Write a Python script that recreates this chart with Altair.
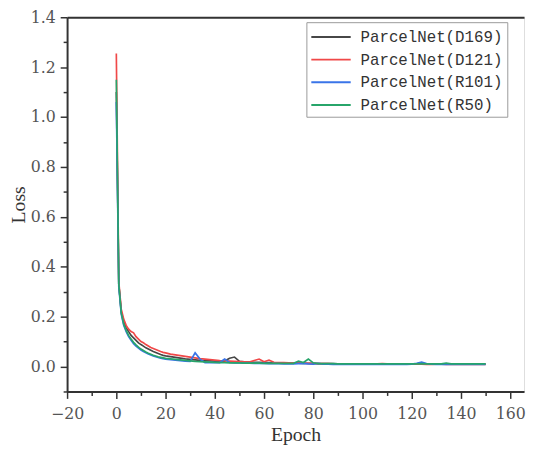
import altair as alt
import pandas as pd

series_names = ["ParcelNet(D169)", "ParcelNet(D121)", "ParcelNet(R101)", "ParcelNet(R50)"]
series_colors = ["#474747", "#f04848", "#3a74e8", "#27a56a"]

epochs = list(range(0, 21)) + list(range(22, 151, 2))

loss_d169 = [1.10, 0.33, 0.22, 0.18, 0.155, 0.14, 0.125, 0.115, 0.105, 0.095, 0.088,
             0.082, 0.075, 0.070, 0.065, 0.060, 0.056, 0.052, 0.048, 0.045, 0.043,
             0.040, 0.037, 0.034, 0.031, 0.029, 0.027, 0.025, 0.024, 0.023, 0.022,
             0.021, 0.022, 0.033, 0.038, 0.021, 0.019, 0.018, 0.017, 0.017, 0.016,
             0.016, 0.015, 0.015, 0.015, 0.014, 0.014, 0.014, 0.013, 0.013, 0.013,
             0.012, 0.012, 0.012, 0.012, 0.011, 0.011, 0.011, 0.011, 0.011, 0.011,
             0.011, 0.011, 0.011, 0.011, 0.011, 0.010, 0.010, 0.010, 0.011, 0.010,
             0.010, 0.010, 0.010, 0.010, 0.010, 0.010, 0.010, 0.010, 0.010, 0.010,
             0.010, 0.010, 0.010, 0.010, 0.010]

loss_d121 = [1.255, 0.34, 0.23, 0.19, 0.165, 0.15, 0.14, 0.135, 0.12, 0.11, 0.10,
             0.095, 0.088, 0.082, 0.076, 0.072, 0.068, 0.064, 0.060, 0.057, 0.055,
             0.050, 0.047, 0.044, 0.041, 0.038, 0.035, 0.032, 0.030, 0.028, 0.026,
             0.024, 0.023, 0.022, 0.021, 0.020, 0.019, 0.018, 0.024, 0.030, 0.019,
             0.026, 0.017, 0.016, 0.016, 0.015, 0.015, 0.014, 0.014, 0.013, 0.013,
             0.012, 0.012, 0.012, 0.011, 0.011, 0.011, 0.011, 0.011, 0.011, 0.011,
             0.011, 0.011, 0.011, 0.012, 0.011, 0.011, 0.010, 0.010, 0.010, 0.011,
             0.010, 0.010, 0.009, 0.009, 0.010, 0.010, 0.009, 0.009, 0.010, 0.009,
             0.009, 0.009, 0.009, 0.009, 0.009]

loss_r101 = [1.06, 0.32, 0.21, 0.165, 0.14, 0.12, 0.105, 0.092, 0.082, 0.074, 0.066,
             0.060, 0.055, 0.050, 0.046, 0.042, 0.039, 0.036, 0.034, 0.032, 0.030,
             0.028, 0.026, 0.024, 0.022, 0.021, 0.055, 0.030, 0.016, 0.017, 0.016,
             0.016, 0.030, 0.016, 0.015, 0.015, 0.014, 0.014, 0.013, 0.013, 0.013,
             0.012, 0.012, 0.012, 0.011, 0.011, 0.011, 0.012, 0.013, 0.011, 0.010,
             0.013, 0.010, 0.010, 0.009, 0.009, 0.009, 0.009, 0.009, 0.009, 0.009,
             0.009, 0.009, 0.009, 0.009, 0.009, 0.009, 0.009, 0.009, 0.009, 0.010,
             0.013, 0.018, 0.012, 0.010, 0.009, 0.009, 0.009, 0.009, 0.009, 0.009,
             0.009, 0.009, 0.009, 0.009, 0.009]

loss_r50 = [1.15, 0.33, 0.215, 0.17, 0.145, 0.125, 0.11, 0.097, 0.087, 0.078, 0.070,
            0.064, 0.058, 0.053, 0.049, 0.045, 0.042, 0.039, 0.037, 0.035, 0.033,
            0.031, 0.029, 0.027, 0.025, 0.023, 0.021, 0.020, 0.019, 0.018, 0.017,
            0.016, 0.016, 0.015, 0.015, 0.015, 0.014, 0.014, 0.014, 0.014, 0.013,
            0.013, 0.013, 0.013, 0.013, 0.013, 0.013, 0.022, 0.016, 0.030, 0.015,
            0.012, 0.012, 0.012, 0.012, 0.011, 0.011, 0.011, 0.011, 0.011, 0.011,
            0.011, 0.011, 0.011, 0.011, 0.011, 0.011, 0.011, 0.011, 0.011, 0.011,
            0.011, 0.012, 0.011, 0.011, 0.011, 0.011, 0.014, 0.011, 0.011, 0.011,
            0.011, 0.011, 0.011, 0.011, 0.011]

x_tick_values = list(range(-20, 161, 10))
y_tick_values = [-0.1, 0.0, 0.1, 0.2, 0.3, 0.4, 0.5, 0.6, 0.7, 0.8, 0.9, 1.0, 1.1, 1.2, 1.3, 1.4]

rows = []
for name, vals in zip(series_names, [loss_d169, loss_d121, loss_r101, loss_r50]):
    for e, v in zip(epochs, vals):
        rows.append({"Epoch": e, "Loss": v, "Model": name})
df = pd.DataFrame(rows)

tick_font = "DejaVu Serif"
title_font = "Liberation Serif"

x_scale = alt.Scale(domain=[-20, 165.6], nice=False, zero=False)
y_scale = alt.Scale(domain=[-0.1, 1.4], nice=False, zero=False)

x_axis = alt.Axis(
    values=x_tick_values,
    labelExpr="datum.value % 20 == 0 ? format(datum.value, 'd') : ''",
    tickSize={"condition": {"test": "datum.value % 20 != 0", "value": 4}, "value": 7},
    tickWidth=1.5, tickColor="#333", domainColor="#333", domainWidth=2,
    labelFont=tick_font, labelFontSize=16, labelColor="#555", labelPadding=7,
    labelFlush=False, labelOverlap=False, labelBound=False,
    title="Epoch", titleFont=title_font, titleFontSize=20, titleFontWeight="normal",
    titleColor="#333", titlePadding=4, grid=False,
)
y_axis = alt.Axis(
    values=y_tick_values,
    format=".1f",
    labelExpr="abs(round(datum.value * 10)) % 2 == 0 ? datum.label : ''",
    tickSize={"condition": {"test": "abs(round(datum.value * 10)) % 2 == 1", "value": 4}, "value": 7},
    tickWidth=1.5, tickColor="#333", domainColor="#333", domainWidth=2,
    labelFont=tick_font, labelFontSize=16, labelColor="#555", labelPadding=5,
    labelFlush=False, labelOverlap=False, labelBound=False,
    title="Loss", titleFont=title_font, titleFontSize=20, titleFontWeight="normal",
    titleColor="#333", titlePadding=2, grid=False,
)

lines = alt.Chart(df).mark_line(strokeWidth=1.7, clip=True).encode(
    x=alt.X("Epoch:Q", scale=x_scale, axis=x_axis),
    y=alt.Y("Loss:Q", scale=y_scale, axis=y_axis),
    color=alt.Color(
        "Model:N",
        scale=alt.Scale(domain=series_names, range=series_colors),
        sort=series_names,
        legend=alt.Legend(
            title=None, orient="none", legendX=243, legendY=5,
            fillColor="white", strokeColor="#999", padding=4,
            symbolType="M-2,0L2,0", symbolSize=400, symbolStrokeWidth=2,
            symbolOffset=10,
            labelFont="Liberation Mono", labelFontSize=16, labelColor="#333",
            labelOffset=19, rowPadding=4, labelLimit=300,
        ),
    ),
    order=alt.Order("Epoch:Q"),
)

top_border = alt.Chart(df).mark_tick(opacity=0).encode(
    x=alt.X("Epoch:Q", scale=x_scale,
            axis=alt.Axis(orient="top", labels=False, ticks=False, title=None,
                          domainColor="#333", domainWidth=2, grid=False)),
)

chart = alt.layer(lines, top_border).resolve_axis(x="independent").properties(
    width=464, height=380,
    padding={"left": 60, "top": 6, "right": 2, "bottom": 56},
    autosize="none",
).configure_view(stroke=None).configure(background="white")

chart.save("out.html", embed_options={"renderer": "svg", "actions": False})
